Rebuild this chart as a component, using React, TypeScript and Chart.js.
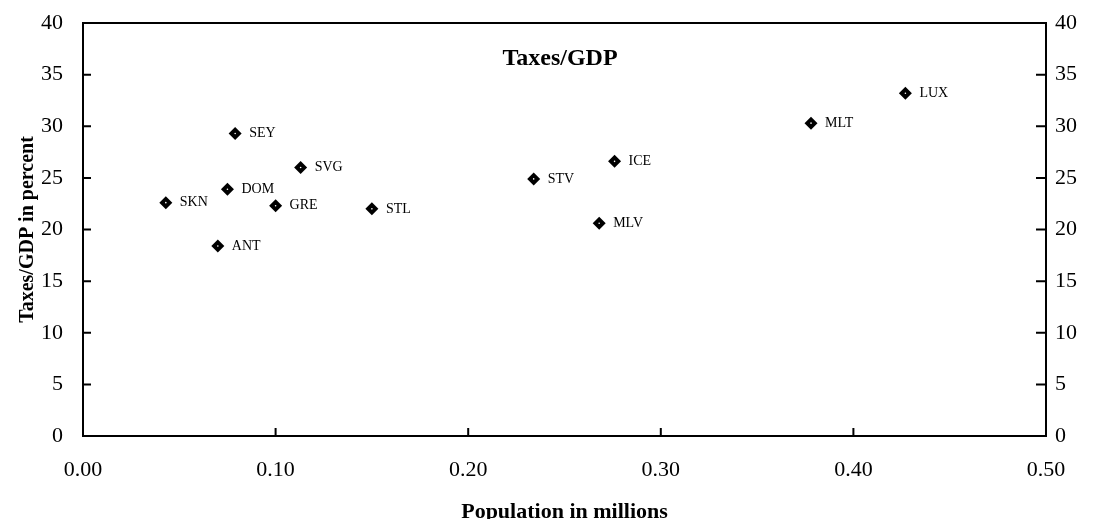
import { useEffect, useRef } from "react";
import { Chart, registerables } from "chart.js";

Chart.register(...registerables);

const FONT = "'Liberation Serif', 'Times New Roman', serif";

const countries = ["SKN", "ANT", "DOM", "SEY", "GRE", "SVG", "STL", "STV", "ICE", "MLV", "MLT", "LUX"];
const populations = [0.043, 0.07, 0.075, 0.079, 0.1, 0.113, 0.15, 0.234, 0.276, 0.268, 0.378, 0.427];
const taxes = [22.6, 18.4, 23.9, 29.3, 22.3, 26.0, 22.0, 24.9, 26.6, 20.6, 30.3, 33.2];
const yTicks = [0, 5, 10, 15, 20, 25, 30, 35, 40];
const xTicks = [0, 0.1, 0.2, 0.3, 0.4, 0.5];

const noPad = (s: any) => {
  s.paddingTop = 0;
  s.paddingBottom = 0;
  s.paddingLeft = 0;
  s.paddingRight = 0;
};

export default function App() {
  const ref = useRef<HTMLCanvasElement>(null);

  useEffect(() => {
    if (!ref.current) return;
    const points = populations.map((p, i) => ({ x: p, y: taxes[i] }));

    const framePlugin = {
      id: "frame",
      afterDraw(chart: any) {
        const { ctx, chartArea: a, scales } = chart;
        ctx.save();
        ctx.strokeStyle = "#000";
        ctx.lineWidth = 2;
        ctx.strokeRect(a.left, a.top, a.right - a.left, a.bottom - a.top);
        ctx.beginPath();
        xTicks.forEach((v) => {
          const px = scales.x.getPixelForValue(v);
          ctx.moveTo(px, a.bottom);
          ctx.lineTo(px, a.bottom - 8);
        });
        yTicks.forEach((v) => {
          const py = scales.y.getPixelForValue(v);
          ctx.moveTo(a.left, py);
          ctx.lineTo(a.left + 8, py);
          const py2 = scales.y2.getPixelForValue(v);
          ctx.moveTo(a.right, py2);
          ctx.lineTo(a.right - 10, py2);
        });
        ctx.stroke();
        ctx.fillStyle = "#000";
        ctx.font = `bold 24px ${FONT}`;
        ctx.textAlign = "center";
        ctx.textBaseline = "alphabetic";
        ctx.fillText("Taxes/GDP", 552, 57);
        ctx.restore();
      },
      afterDatasetsDraw(chart: any) {
        const { ctx } = chart;
        const meta = chart.getDatasetMeta(1);
        ctx.save();
        ctx.fillStyle = "#000";
        ctx.font = `14px ${FONT}`;
        ctx.textAlign = "left";
        ctx.textBaseline = "middle";
        meta.data.forEach((el: any, i: number) => {
          ctx.fillText(countries[i], el.x + 14, el.y);
        });
        ctx.restore();
      },
    };

    const tickFont = { family: FONT, size: 22 };

    const chart = new Chart(ref.current, {
      type: "scatter",
      data: {
        datasets: [
          {
            data: points,
            pointStyle: "circle",
            pointRadius: 0.8,
            pointBackgroundColor: "#fff",
            pointBorderWidth: 0,
            yAxisID: "y",
          },
          {
            data: points,
            pointStyle: "rectRot",
            pointRadius: 6.5,
            pointBackgroundColor: "#000",
            pointBorderColor: "#000",
            pointBorderWidth: 0,
            yAxisID: "y",
          },
        ],
      },
      options: {
        animation: false,
        responsive: true,
        maintainAspectRatio: false,
        layout: { autoPadding: false, padding: { top: 15, left: 0, right: 0, bottom: 0 } },
        plugins: {
          legend: { display: false },
          tooltip: { enabled: false },
          title: { display: false },
        },
        scales: {
          x: {
            type: "linear",
            min: 0,
            max: 0.5,
            afterBuildTicks: (s: any) => {
              s.ticks = xTicks.map((v) => ({ value: v }));
            },
            ticks: {
              callback: (v: any) => Number(v).toFixed(2),
              font: tickFont,
              color: "#000",
              padding: 21,
              maxRotation: 0,
              autoSkip: false,
            },
            grid: { display: false, drawTicks: false },
            border: { display: false },
            title: {
              display: true,
              text: "Population in millions",
              color: "#000",
              font: { family: FONT, size: 22, weight: "bold", lineHeight: 1 },
              padding: { top: 0, bottom: -4 },
            },
            afterFit: (s: any) => {
              s.height = 83;
              noPad(s);
            },
          },
          y: {
            type: "linear",
            position: "left",
            min: 0,
            max: 40,
            afterBuildTicks: (s: any) => {
              s.ticks = yTicks.map((v) => ({ value: v }));
            },
            ticks: { font: tickFont, color: "#000", padding: 20 },
            grid: { display: false, drawTicks: false },
            border: { display: false },
            title: {
              display: true,
              text: "Taxes/GDP in percent",
              color: "#000",
              font: { family: FONT, size: 20, weight: "bold" },
              padding: { top: 8, bottom: 0 },
            },
            afterFit: (s: any) => {
              s.width = 75;
              noPad(s);
            },
          },
          y2: {
            type: "linear",
            position: "right",
            min: 0,
            max: 40,
            afterBuildTicks: (s: any) => {
              s.ticks = yTicks.map((v) => ({ value: v }));
            },
            ticks: { font: tickFont, color: "#000", padding: 9 },
            grid: { display: false, drawTicks: false },
            border: { display: false },
            afterFit: (s: any) => {
              s.width = 39;
              noPad(s);
            },
          },
        },
      } as any,
      plugins: [framePlugin],
    });

    return () => chart.destroy();
  }, []);

  return (
    <div style={{ width: 1077, height: 511, position: "relative" }}>
      <canvas ref={ref} />
    </div>
  );
}
